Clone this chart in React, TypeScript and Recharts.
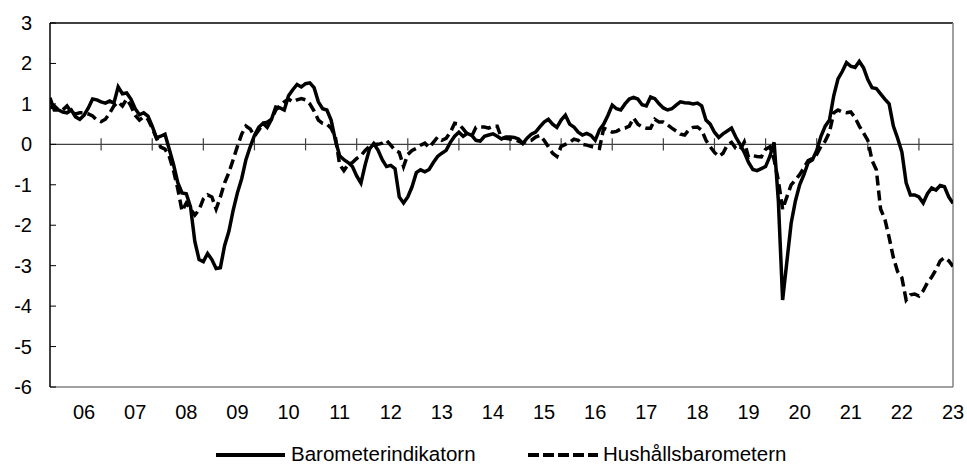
import React from 'react';
import { LineChart, Line, XAxis, YAxis, ReferenceLine } from 'recharts';

// Monthly data, Jan 2006 – Sep 2023
const yearLabels = ['06', '07', '08', '09', '10', '11', '12', '13', '14', '15', '16', '17', '18', '19', '20', '21', '22', '23'];
const yTicks = [-6, -5, -4, -3, -2, -1, 0, 1, 2, 3];
const seriesNames = ['Barometerindikatorn', 'Hushållsbarometern'];

const barometer = [
  1.15, 0.85, 0.85, 0.8, 0.78, 0.85, 0.68, 0.62, 0.72, 0.9, 1.12, 1.1,
  1.05, 1.02, 1.07, 1.02, 1.42, 1.25, 1.27, 1.12, 0.88, 0.73, 0.78, 0.7,
  0.45, 0.16, 0.2, 0.25, -0.12, -0.5, -0.95, -1.2, -1.22, -1.55, -2.4, -2.85,
  -2.9, -2.7, -2.85, -3.07, -3.05, -2.5, -2.15, -1.63, -1.2, -0.85, -0.38, -0.06,
  0.22, 0.42, 0.52, 0.42, 0.62, 0.92, 0.9, 0.85, 1.2, 1.35, 1.48, 1.42,
  1.5, 1.52, 1.4, 1.05, 0.88, 0.85, 0.6, 0.1, -0.28, -0.38, -0.45, -0.55,
  -0.78, -0.96, -0.5, -0.12, 0.02, -0.14, -0.38, -0.55, -0.52, -0.6, -1.3, -1.45,
  -1.3, -1.05, -0.7, -0.63, -0.68, -0.62, -0.45, -0.3, -0.22, -0.15, 0.05, 0.2,
  0.3, 0.2, 0.27, 0.22, 0.1, 0.08, 0.2, 0.23, 0.26, 0.2, 0.13, 0.18,
  0.18, 0.17, 0.13, 0.02, 0.15, 0.25, 0.3, 0.43, 0.55, 0.62, 0.5, 0.42,
  0.6, 0.72, 0.5, 0.43, 0.3, 0.23, 0.27, 0.22, 0.1, 0.36, 0.5, 0.72,
  0.97, 0.88, 0.85, 1.0, 1.12, 1.16, 1.12, 0.98, 0.95, 1.17, 1.13, 1.0,
  0.9, 0.85, 0.88, 0.97, 1.05, 1.03, 1.02, 1.0, 1.02, 0.95, 0.6, 0.5,
  0.3, 0.17, 0.26, 0.33, 0.4, 0.18, 0.0, -0.2, -0.45, -0.62, -0.65, -0.6,
  -0.55, -0.3, 0.05, -1.4, -3.85, -2.9, -1.95, -1.4, -1.0, -0.75, -0.45, -0.38,
  -0.15, 0.2, 0.45, 0.6, 1.2, 1.62, 1.8, 2.02, 1.93, 1.9, 2.05, 1.89,
  1.6, 1.4, 1.38, 1.25, 1.12, 1.0, 0.45, 0.15, -0.19, -0.95, -1.25, -1.25,
  -1.3, -1.45, -1.22, -1.08, -1.13, -1.02, -1.05, -1.3, -1.46,
];

const hushall = [
  0.9, 0.95, 0.85, 0.85, 0.95, 0.8, 0.75, 0.78, 0.78, 0.75, 0.7, 0.6,
  0.56, 0.62, 0.77, 0.95, 1.05, 0.95, 1.12, 0.95, 0.72, 0.6, 0.68, 0.62,
  0.4, 0.15, -0.07, -0.12, -0.3, -0.65, -1.1, -1.65, -1.45, -1.6, -1.75, -1.62,
  -1.35, -1.25, -1.3, -1.6, -1.3, -0.95, -0.7, -0.38, -0.05, 0.25, 0.45, 0.38,
  0.2, 0.35, 0.52, 0.55, 0.62, 0.85, 0.95, 1.05, 1.12, 1.05, 1.1, 1.13,
  1.1, 1.0, 0.82, 0.6, 0.52, 0.5, 0.4, 0.18, -0.5, -0.65, -0.5, -0.45,
  -0.35, -0.28, -0.15, -0.05, 0.0, 0.0, 0.03, 0.1, -0.02, -0.15, -0.2, -0.55,
  -0.25, -0.15, -0.1, -0.02, 0.03, -0.08, 0.05, 0.18, 0.1, 0.15, 0.3, 0.52,
  0.5, 0.38, 0.25, 0.2, 0.42, 0.43, 0.43, 0.4, 0.45, 0.45, 0.15, 0.15,
  0.13, 0.12, 0.08, 0.03, 0.08, 0.1, 0.18, 0.22, 0.1, -0.06, -0.22, -0.3,
  -0.05, 0.0, 0.05, 0.13, 0.1, 0.0, -0.02, -0.05, -0.08, -0.1, 0.4, 0.35,
  0.3, 0.32, 0.38, 0.4, 0.45, 0.65, 0.5, 0.43, 0.4, 0.4, 0.62, 0.55,
  0.55, 0.48, 0.4, 0.33, 0.25, 0.23, 0.36, 0.42, 0.43, 0.35, 0.1, -0.06,
  -0.2, -0.3, -0.22, -0.02, 0.05, -0.1, -0.14, 0.06, -0.32, -0.28, -0.3, -0.31,
  -0.12, -0.06, -0.38, -0.9, -1.6, -1.3, -1.0, -0.88, -0.75, -0.58, -0.4, -0.35,
  -0.25, -0.05, 0.08, 0.3, 0.78, 0.85, 0.8, 0.78, 0.8, 0.66, 0.45, 0.28,
  0.1, -0.4, -0.63, -1.6, -1.85, -2.3, -2.8, -3.15, -3.3, -3.85, -3.72, -3.7,
  -3.75, -3.62, -3.42, -3.28, -3.1, -2.88, -2.8, -2.88, -3.02,
];

const data = barometer.map((b, i) => ({ m: i, b, h: hushall[i] }));
const lastIndex = data.length - 1;
const yearStarts = yearLabels.map((_, k) => k * 12);
const labelPositions = yearLabels.map((_, k) => Math.min(k * 12 + 8, lastIndex));
const labelByPos: Record<number, string> = {};
labelPositions.forEach((p, k) => { labelByPos[p] = yearLabels[k]; });

const FONT = '"Liberation Sans", Arial, sans-serif';

const XTick = (props: any) => {
  const { x, y, payload } = props;
  return (
    <text x={x} y={y + 32} textAnchor="middle" fontFamily={FONT} fontSize={20} fill="#000">
      {labelByPos[payload.value]}
    </text>
  );
};

const YTick = (props: any) => {
  const { x, y, payload } = props;
  return (
    <g>
      <line x1={x} x2={x + 6} y1={y} y2={y} stroke="#000" strokeWidth={1} />
      <text x={x - 18} y={y + 7} textAnchor="end" fontFamily={FONT} fontSize={20} fill="#000">
        {payload.value}
      </text>
    </g>
  );
};

export default function App() {
  return (
    <div style={{ position: 'absolute', left: 0, top: 0, width: 967, height: 464, background: '#fff' }}>
      <LineChart width={967} height={464} data={data} margin={{ top: 23, right: 14, bottom: 0, left: 0 }}>
        <XAxis
          dataKey="m"
          type="number"
          domain={[0, lastIndex]}
          ticks={labelPositions}
          interval={0}
          tickLine={false}
          tickSize={0}
          tickMargin={0}
          height={77}
          axisLine={{ stroke: '#808080', strokeWidth: 1.5 }}
          tick={<XTick />}
          allowDataOverflow
        />
        <YAxis
          type="number"
          domain={[-6, 3]}
          ticks={yTicks}
          interval={0}
          width={50}
          tickLine={false}
          tickSize={0}
          tickMargin={0}
          axisLine={{ stroke: '#000', strokeWidth: 1.5 }}
          tick={<YTick />}
          allowDataOverflow
        />
        <ReferenceLine y={3} stroke="#000" strokeWidth={1.5} />
        <ReferenceLine x={lastIndex} stroke="#808080" strokeWidth={1.5} />
        <ReferenceLine y={0} stroke="#404040" strokeWidth={1.2} />
        {yearStarts.slice(1).map((m) => (
          <ReferenceLine
            key={m}
            segment={[{ x: m, y: 0.15 }, { x: m, y: -0.15 }]}
            stroke="#404040"
            strokeWidth={1.2}
          />
        ))}
        <Line
          type="linear"
          dataKey="h"
          name={seriesNames[1]}
          stroke="#000"
          strokeWidth={3.5}
          strokeDasharray="10 5"
          dot={false}
          isAnimationActive={false}
        />
        <Line
          type="linear"
          dataKey="b"
          name={seriesNames[0]}
          stroke="#000"
          strokeWidth={3.5}
          dot={false}
          isAnimationActive={false}
        />
      </LineChart>
      <svg width={967} height={464} style={{ position: 'absolute', left: 0, top: 0, pointerEvents: 'none' }}>
        <line x1={216} x2={285} y1={455} y2={455} stroke="#000" strokeWidth={4} />
        <text x={291} y={461} fontFamily={FONT} fontSize={20.5} fill="#000">{seriesNames[0]}</text>
        <line x1={528} x2={598} y1={455} y2={455} stroke="#000" strokeWidth={4} strokeDasharray="11 4" />
        <text x={603} y={461} fontFamily={FONT} fontSize={20.5} fill="#000">{seriesNames[1]}</text>
      </svg>
    </div>
  );
}
